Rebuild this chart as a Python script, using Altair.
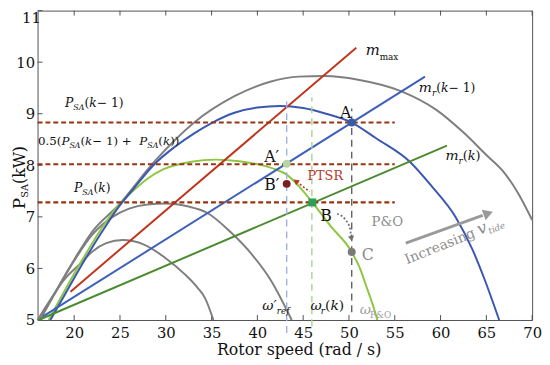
import math
import altair as alt
import pandas as pd

# ---------------- data ----------------
X_TICKS = [20, 25, 30, 35, 40, 45, 50, 55, 60, 65, 70]
Y_TICKS = [5, 6, 7, 8, 9, 10, 11]

GRAY_S_X = [16.0, 17.5, 19.0, 20.6, 22.0, 23.5, 25.3, 27.5, 30.2, 32.0, 33.5, 34.3, 35.2]
GRAY_S_Y = [5.0, 5.42, 5.8, 6.08, 6.33, 6.49, 6.55, 6.47, 6.17, 5.9, 5.62, 5.42, 5.0]
GRAY_M_X = [16.2, 18.0, 20.0, 22.0, 24.2, 26.0, 28.0, 30.0, 32.5, 34.5, 37.1, 39.5, 41.4, 43.75]
GRAY_M_Y = [5.0, 5.55, 6.15, 6.66, 7.0, 7.16, 7.24, 7.26, 7.2, 7.08, 6.7, 6.25, 5.79, 5.0]
GRAY_L_X = [16.3, 18.0, 20.0, 22.0, 24.8, 28.8, 33.1, 37.5, 41.4, 44.5, 47.4, 51.0, 55.8, 59.5, 62.6, 65.0, 66.9, 68.5, 70.0]
GRAY_L_Y = [5.0, 5.56, 6.17, 6.72, 7.22, 8.08, 8.83, 9.34, 9.62, 9.72, 9.73, 9.66, 9.43, 9.08, 8.62, 8.2, 7.87, 7.45, 6.94]
GREEN_X = [17.2, 19.0, 21.0, 23.0, 24.8, 26.4, 28.0, 29.7, 32.8, 35.5, 38.0, 40.0, 42.0, 43.2, 44.5, 46.0, 48.0, 50.3, 51.2, 51.9, 52.5, 53.1]
GREEN_Y = [5.0, 5.58, 6.2, 6.78, 7.22, 7.5, 7.74, 7.92, 8.07, 8.11, 8.08, 8.02, 7.92, 7.82, 7.6, 7.28, 6.82, 6.32, 6.0, 5.65, 5.35, 5.0]
BLUE_X = [17.4, 19.0, 21.0, 23.0, 24.8, 26.5, 28.8, 31.0, 33.1, 35.0, 37.5, 40.0, 42.5, 45.0, 47.5, 50.3, 53.0, 56.7, 59.0, 61.7, 63.5, 64.8, 66.4]
BLUE_Y = [5.0, 5.5, 6.12, 6.7, 7.18, 7.55, 8.03, 8.36, 8.62, 8.82, 9.02, 9.12, 9.15, 9.11, 9.0, 8.83, 8.52, 8.06, 7.6, 6.98, 6.36, 5.79, 5.0]

MMAX_X = [19.6, 50.8]
MMAX_Y = [5.55, 10.28]
MRK1_X = [16.6, 58.3]
MRK1_Y = [5.07, 9.72]
MRK_X = [16.1, 60.7]
MRK_Y = [5.0, 8.38]

LEVELS = [8.83, 8.02, 7.28]
LEVEL_X = [16.0, 55.0]

VERT_X = [43.2, 45.95, 50.3]
VERT_Y0 = [4.75, 4.88, 5.15]
VERT_Y1 = [9.28, 9.32, 9.1]

PT_NAMES = ["A", "A'", "B'", "B", "C"]
PT_X = [50.3, 43.2, 43.2, 46.0, 50.3]
PT_Y = [8.83, 8.03, 7.64, 7.28, 6.32]

PTSR_AX = [45.7, 44.3]
PTSR_AY = [7.49, 7.68]
PO_AX = [48.7, 49.6, 50.1, 50.25]
PO_AY = [7.06, 6.95, 6.78, 6.6]
INC_AX = [56.2, 64.6]
INC_AY = [6.49, 7.03]

# ---------------- layout ----------------
XMIN, XMAX, YMIN, YMAX = 16, 70, 5, 11
W, H = 502, 314
PXX = W / (XMAX - XMIN)
PXY = H / (YMAX - YMIN)
FONT = "DejaVu Serif"

XS = alt.Scale(domain=[XMIN, XMAX], nice=False, zero=False)
YS = alt.Scale(domain=[YMIN, YMAX], nice=False, zero=False)
XA = alt.Axis(values=X_TICKS, title="Rotor speed (rad / s)", tickSize=0, domain=False, grid=False,
              labelFont=FONT, labelFontSize=15, labelColor="#111", labelPadding=6, labelFlush=False,
              titleFont=FONT, titleFontSize=16, titleFontWeight="normal", titleColor="#111",
              titleX=265, titleY=35, titleBaseline="alphabetic", titleAlign="center", format="d")
YA = alt.Axis(values=[5, 6, 7, 8, 9, 10], title=None, tickSize=0, domain=False, grid=False,
              labelFont=FONT, labelFontSize=15, labelColor="#111", labelPadding=3, labelFlush=False,
              format="d")


def X(f):
    return alt.X(f, type="quantitative", scale=XS, axis=XA)


def Y(f):
    return alt.Y(f, type="quantitative", scale=YS, axis=YA)


# curves
curve_specs = [
    ("gs", GRAY_S_X, GRAY_S_Y, "#7f7f7f"),
    ("gm", GRAY_M_X, GRAY_M_Y, "#7f7f7f"),
    ("gl", GRAY_L_X, GRAY_L_Y, "#7f7f7f"),
    ("green", GREEN_X, GREEN_Y, "#8dc63f"),
    ("blue", BLUE_X, BLUE_Y, "#3a58b0"),
    ("mrk", MRK_X, MRK_Y, "#4b8a2e"),
    ("mrk1", MRK1_X, MRK1_Y, "#3f60b8"),
    ("mmax", MMAX_X, MMAX_Y, "#c0351e"),
]
rows = []
for name, xs, ys, col in curve_specs:
    for xv, yv in zip(xs, ys):
        rows.append({"x": xv, "y": yv, "name": name, "color": col})
curves_df = pd.DataFrame(rows)

curves = alt.Chart(curves_df).mark_line(strokeWidth=2, interpolate="monotone").encode(
    x=X("x"), y=Y("y"), detail="name:N", color=alt.Color("color:N", scale=None))

levels_df = pd.DataFrame({"y": LEVELS, "x": [LEVEL_X[0]] * 3, "x2": [LEVEL_X[1]] * 3})
levels = alt.Chart(levels_df).mark_rule(strokeWidth=2.2, strokeDash=[5, 3], color="#963512").encode(
    x=X("x"), x2="x2:Q", y=Y("y"))

vert_df = pd.DataFrame({"x": VERT_X, "y": VERT_Y0, "y2": VERT_Y1,
                        "color": ["#9db2e2", "#a9d18e", "#606060"]})
verts = alt.Chart(vert_df).mark_rule(strokeWidth=1.4, strokeDash=[7, 5]).encode(
    x=X("x"), y=Y("y"), y2="y2:Q", color=alt.Color("color:N", scale=None))

# arrows
ptsr_df = pd.DataFrame({"x": PTSR_AX, "y": PTSR_AY})
ptsr = alt.Chart(ptsr_df).mark_line(strokeWidth=1.6, strokeDash=[2, 2], color="#b5382a").encode(
    x=X("x"), y=Y("y"))
po_df = pd.DataFrame({"x": PO_AX, "y": PO_AY, "i": list(range(len(PO_AX)))})
po = alt.Chart(po_df).mark_line(strokeWidth=1.8, strokeDash=[2, 2], color="#6f6f6f",
                                interpolate="monotone").encode(x=X("x"), y=Y("y"), order="i:Q")
inc_df = pd.DataFrame({"x": INC_AX, "y": INC_AY})
inc = alt.Chart(inc_df).mark_line(strokeWidth=3, color="#9a9a9a").encode(x=X("x"), y=Y("y"))


def head_angle(xa, ya):
    dxp = (xa[-1] - xa[-2]) * PXX
    dyp = -(ya[-1] - ya[-2]) * PXY
    return math.degrees(math.atan2(dxp, -dyp)) % 360


heads = []
for xa, ya, col, sz, ext in [(PTSR_AX, PTSR_AY, "#b5382a", 40, 1.2),
                             (PO_AX, PO_AY, "#6f6f6f", 40, 1.2),
                             (INC_AX, INC_AY, "#9a9a9a", 130, 6)]:
    ang = head_angle(xa, ya)
    dx = xa[-1] - xa[-2]
    dy = ya[-1] - ya[-2]
    L = math.hypot(dx * PXX, dy * PXY)
    ux, uy = dx * PXX / L, dy * PXY / L
    heads.append({"x": xa[-1] + ux * ext / PXX, "y": ya[-1] + uy * ext / PXY,
                  "angle": ang, "color": col, "size": sz})
heads_df = pd.DataFrame(heads)
head_marks = alt.Chart(heads_df).mark_point(shape="triangle-up", filled=True, opacity=1).encode(
    x=X("x"), y=Y("y"), angle=alt.Angle("angle:Q", scale=None),
    color=alt.Color("color:N", scale=None), size=alt.Size("size:Q", scale=None))

pts_df = pd.DataFrame({"x": PT_X, "y": PT_Y, "name": PT_NAMES,
                       "color": ["#3b5ba5", "#b7d5a3", "#7b2020", "#2e9e5b", "#7a7a7a"],
                       "shape": ["circle", "circle", "circle", "square", "circle"]})
pts = alt.Chart(pts_df).mark_point(filled=True, size=65, opacity=1).encode(
    x=X("x"), y=Y("y"), color=alt.Color("color:N", scale=None), shape=alt.Shape("shape:N", scale=None))

# inward ticks
tick_rows = []
for t in X_TICKS:
    tick_rows.append({"x": t, "x2": t, "y": YMIN, "y2": YMIN + 5 / PXY})
    tick_rows.append({"x": t, "x2": t, "y": YMAX - 5 / PXY, "y2": YMAX})
for t in Y_TICKS:
    tick_rows.append({"x": XMIN, "x2": XMIN + 5 / PXX, "y": t, "y2": t})
ticks = alt.Chart(pd.DataFrame(tick_rows)).mark_rule(strokeWidth=1, color="#505050").encode(
    x=X("x"), x2="x2:Q", y=Y("y"), y2="y2:Q")

# ---------------- text labels ----------------
REG = {' ': .318, '(': .39, ')': .39, '.': .318, '0': .636, '1': .636, '5': .636, '+': .838, '−': .838,
       'A': .722, 'B': .735, 'C': .765, 'P': .673, 'S': .685, 'T': .667, 'R': .77, '&': .89,
       'O': .82, 'I': .372, 'n': .644, 'c': .56, 'r': .478, 'e': .592, 'a': .596, 's': .513,
       'i': .32, 'g': .635, 'm': .948, 'x': .6, '′': .3, 'k': .61, 'W': 1.03}
ITA = {'P': .673, 'S': .685, 'A': .722, 'k': .61, 'm': .948, 'r': .478, 'ω': .75, '′': .3,
       'e': .592, 'f': .352, 'v': .592, 't': .402, 'i': .32, 'd': .64}

reg_rows, ita_rows = [], []


def label(x0, y0, pieces, color="#111", angle=0):
    th = math.radians(angle)
    ux, uy = math.cos(th), math.sin(th)
    nx, ny = -math.sin(th), math.cos(th)
    cur = 0.0
    for text, it, size, dyp in pieces:
        table = ITA if it else REG
        w = sum(table.get(ch, .6) for ch in text) * size
        if text.strip():
            sx = cur * ux + dyp * nx
            sy = cur * uy + dyp * ny
            row = {"x": x0 + sx / PXX, "y": y0 - sy / PXY, "text": text,
                   "size": size, "color": color, "angle": angle}
            (ita_rows if it else reg_rows).append(row)
        cur += w


S = 12.5
S2 = 12
label(19.0, 9.13, [("P", 1, S, 0), ("SA", 1, 8, 3.5), ("(", 0, S, 0), ("k", 1, S, 0), (" − 1)", 0, S, 0)])
label(16.05, 8.40, [("0.5(", 0, S2, 0), ("P", 1, S2, 0), ("SA", 1, 8, 3.5), ("(", 0, S2, 0),
                    ("k", 1, S2, 0), (" − 1) + ", 0, S2, 0), ("P", 1, S2, 0), ("SA", 1, 8, 3.5),
                    ("(", 0, S2, 0), ("k", 1, S2, 0), ("))", 0, S2, 0)])
label(19.98, 7.49, [("P", 1, S, 0), ("SA", 1, 8, 3.5), ("(", 0, S, 0), ("k", 1, S, 0), (")", 0, S, 0)])
label(49.02, 8.91, [("A", 0, 16, 0)])
label(40.74, 8.06, [("A′", 0, 16, 0)])
label(40.74, 7.53, [("B′", 0, 16, 0)])
label(46.87, 6.92, [("B", 0, 16, 0)])
label(51.39, 6.17, [("C", 0, 16, 0)], color="#8a8a8a")
label(45.47, 7.72, [("PTSR", 0, 13, 0)], color="#b5382a")
label(52.47, 6.83, [("P&O", 0, 13.5, 0)], color="#8c8c8c")
label(56.34, 6.08, [("Increasing", 0, 14, 0), (" ", 0, 14, 0), ("v", 1, 17, 0), ("tide", 1, 9, 3)],
      color="#8c8c8c", angle=338)
label(40.53, 5.19, [("ω′", 1, 14, 0), ("ref", 1, 9, 4)])
label(45.8, 5.19, [("ω", 1, 14, 0), ("r", 1, 9, 4), ("(", 0, 14, 0), ("k", 1, 14, 0), (")", 0, 14, 0)])
label(51.18, 5.11, [("ω", 1, 14, 0), ("P&O", 0, 9, 4)], color="#a0a0a0")
label(60.53, 8.11, [("m", 1, 14, 0), ("r", 1, 9, 4), ("(", 0, 13, 0), ("k", 1, 13, 0), (")", 0, 13, 0)])
label(57.63, 9.43, [("m", 1, 14, 0), ("r", 1, 9, 4), ("(", 0, 12.5, 0), ("k", 1, 12.5, 0), (" − 1)", 0, 12.5, 0)])
label(51.82, 10.13, [("m", 1, 15, 0), ("max", 0, 9, 5)])
label(14.3, 10.76, [("11", 0, 15, 0)])
label(14.6, 7.15, [("P", 0, 17, 0), ("SA", 0, 10, 3), (" (kW)", 0, 16, 0)], angle=270)


def text_layer(rows_, style):
    return alt.Chart(pd.DataFrame(rows_)).mark_text(
        font=FONT, fontStyle=style, align="left", baseline="alphabetic").encode(
        x=X("x"), y=Y("y"), text="text:N", size=alt.Size("size:Q", scale=None),
        color=alt.Color("color:N", scale=None), angle=alt.Angle("angle:Q", scale=None))


chart = alt.layer(
    ticks, curves, levels, verts, ptsr, po, inc, head_marks, pts,
    text_layer(reg_rows, "normal"), text_layer(ita_rows, "italic"),
).properties(
    width=W, height=H,
    padding={"left": 30, "top": 0, "right": 10, "bottom": 42},
    autosize=alt.AutoSizeParams(type="none"),
).configure_view(stroke="#505050", strokeWidth=1)

chart.save("out.html", embed_options={"renderer": "svg", "actions": False})
